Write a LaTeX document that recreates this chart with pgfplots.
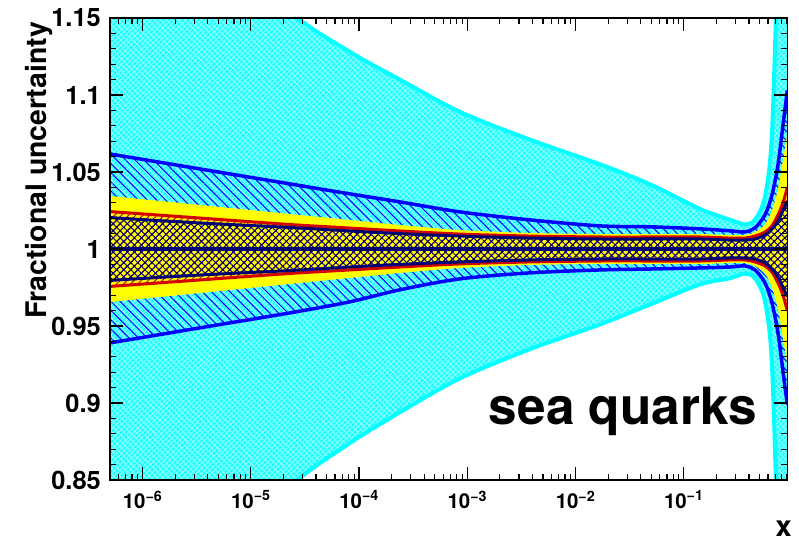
\documentclass[border=0pt]{standalone}
\usepackage{fontspec}
\setmainfont{TeX Gyre Heros}
\usepackage{pgfplots}
\pgfplotsset{compat=1.18}
\usepackage{pgfplotstable}
\usepgfplotslibrary{fillbetween}
\usetikzlibrary{patterns.meta}

\definecolor{rootcyan}{RGB}{0,255,255}
\definecolor{rootblue}{RGB}{0,0,255}
\definecolor{rootnavy}{RGB}{0,0,115}
\definecolor{rootred}{RGB}{210,0,0}
\definecolor{rootyellow}{RGB}{255,255,0}

\pgfplotstableread{
x       cu     cl     bu     bl     yu     yl     ru     rl     nu     nl
5e-7    1.270  0.730  1.0617 0.9390 1.0344 0.9656 1.0243 0.9757 1.0204 0.9796
3.38e-6 1.210  0.790  1.0520 0.9488 1.0286 0.9714 1.0201 0.9799 1.0169 0.9831
2.29e-5 1.154  0.846  1.0423 0.9585 1.0227 0.9773 1.0159 0.9841 1.0140 0.9860
8.22e-5 1.128  0.874  1.0358 0.9657 1.0188 0.9812 1.0136 0.9864 1.0117 0.9883
2.38e-4 1.110  0.894  1.0306 0.9735 1.0156 0.9844 1.0117 0.9883 1.0100 0.9900
8.54e-4 1.089  0.916  1.0241 0.9806 1.0123 0.9877 1.0097 0.9903 1.0084 0.9916
3.79e-3 1.071  0.935  1.0189 0.9845 1.0104 0.9896 1.0084 0.9916 1.0071 0.9929
0.0168  1.055  0.951  1.0150 0.9864 1.0097 0.9903 1.0078 0.9922 1.0065 0.9935
0.0487  1.042  0.964  1.0144 0.9870 1.0097 0.9903 1.0078 0.9922 1.0065 0.9935
0.141   1.026  0.977  1.0131 0.9877 1.0097 0.9903 1.0078 0.9922 1.0065 0.9935
0.267   1.019  0.981  1.0118 0.9883 1.0091 0.9909 1.0071 0.9929 1.0058 0.9942
0.368   1.016  0.984  1.0111 0.9890 1.0091 0.9909 1.0071 0.9929 1.0058 0.9942
0.455   1.019  0.981  1.0137 0.9864 1.0110 0.9890 1.0084 0.9916 1.0065 0.9935
0.563   1.034  0.966  1.0222 0.9780 1.0160 0.9840 1.0110 0.9890 1.0090 0.9910
0.653   1.075  0.925  1.0351 0.9650 1.0250 0.9750 1.0150 0.9850 1.0130 0.9870
0.742   1.200  0.800  1.0546 0.9456 1.0390 0.9610 1.0220 0.9780 1.0180 0.9820
0.826   1.350  0.650  1.0806 0.9203 1.0580 0.9420 1.0300 0.9700 1.0250 0.9750
0.905   1.500  0.500  1.1030 0.8990 1.0750 0.9250 1.0400 0.9600 1.0310 0.9690
}\bands

\begin{document}
\begin{tikzpicture}
\begin{axis}[
  at={(110bp,69bp)}, anchor=south west, scale only axis,
  width=677.3bp, height=462bp,
  xmode=log, xmin=5e-7, xmax=0.905, ymin=0.85, ymax=1.15,
  axis on top, axis line style={line width=1.6bp},
  tick align=inside, major tick length=13bp, minor tick length=6.5bp,
  every tick/.style={black, line width=1.2bp},
  xtick={1e-6,1e-5,1e-4,1e-3,1e-2,1e-1},
  xticklabels={10\textsuperscript{−6},10\textsuperscript{−5},10\textsuperscript{−4},10\textsuperscript{−3},10\textsuperscript{−2},10\textsuperscript{−1}},
  minor xtick={6e-7,7e-7,8e-7,9e-7,2e-6,3e-6,4e-6,5e-6,6e-6,7e-6,8e-6,9e-6,2e-5,3e-5,4e-5,5e-5,6e-5,7e-5,8e-5,9e-5,2e-4,3e-4,4e-4,5e-4,6e-4,7e-4,8e-4,9e-4,2e-3,3e-3,4e-3,5e-3,6e-3,7e-3,8e-3,9e-3,2e-2,3e-2,4e-2,5e-2,6e-2,7e-2,8e-2,9e-2,0.2,0.3,0.4,0.5,0.6,0.7,0.8,0.9},
  ytick={0.85,0.9,0.95,1,1.05,1.1,1.15},
  yticklabels={0.85,0.9,0.95,1,1.05,1.1,1.15},
  minor ytick={0.86,0.87,0.88,0.89,0.91,0.92,0.93,0.94,0.96,0.97,0.98,0.99,1.01,1.02,1.03,1.04,1.06,1.07,1.08,1.09,1.11,1.12,1.13,1.14},
  yticklabel style={font=\fontsize{25.5}{28}\selectfont\bfseries, anchor=east, inner sep=0pt, xshift=-9bp},
  xticklabel style={font=\fontsize{20.5}{24}\selectfont\bfseries, anchor=north, inner sep=0pt, yshift=-10.5bp},
]
% cyan band
\addplot[name path=cu, draw=rootcyan, line width=4bp, smooth] table[x=x,y=cu]{\bands};
\addplot[name path=cl, draw=rootcyan, line width=4bp, smooth] table[x=x,y=cl]{\bands};
\addplot[draw=none, fill=rootcyan!50!white] fill between[of=cu and cl];
\addplot[draw=none, pattern={Hatch[angle=45,distance=3.6bp,line width=1.3bp]}, pattern color=rootcyan] fill between[of=cu and cl];
% blue band
\addplot[name path=bu, draw=rootblue, line width=3.5bp, smooth] table[x=x,y=bu]{\bands};
\addplot[name path=bl, draw=rootblue, line width=3.5bp, smooth] table[x=x,y=bl]{\bands};
\addplot[draw=none, pattern={Lines[angle=-45,distance=6.5bp,line width=1bp]}, pattern color=rootblue] fill between[of=bu and bl];
% yellow band
\addplot[name path=yu, draw=none, smooth] table[x=x,y=yu]{\bands};
\addplot[name path=yl, draw=none, smooth] table[x=x,y=yl]{\bands};
\addplot[draw=none, fill=rootyellow] fill between[of=yu and yl];
% red band
\addplot[name path=ru, draw=rootred, line width=3bp, smooth] table[x=x,y=ru]{\bands};
\addplot[name path=rl, draw=rootred, line width=3bp, smooth] table[x=x,y=rl]{\bands};
\addplot[draw=none, pattern={Lines[angle=45,distance=5bp,line width=1bp]}, pattern color=rootred] fill between[of=ru and rl];
% navy band
\addplot[name path=nu, draw=rootnavy, line width=3bp, smooth] table[x=x,y=nu]{\bands};
\addplot[name path=nl, draw=rootnavy, line width=3bp, smooth] table[x=x,y=nl]{\bands};
\addplot[draw=none, pattern={Hatch[angle=45,distance=5bp,line width=1bp]}, pattern color=rootnavy] fill between[of=nu and nl];
% central line
\addplot[rootnavy, line width=4bp] coordinates {(5e-7,1) (0.905,1)};
\end{axis}
\node[rotate=90, anchor=base east, inner sep=0pt, font=\fontsize{28.5}{32}\selectfont\bfseries] at (46bp,527bp) {Fractional uncertainty};
\node[anchor=base east, inner sep=0pt, font=\fontsize{51.5}{56}\selectfont\bfseries] at (757bp,124bp) {sea quarks};
\node[anchor=base east, inner sep=0pt, font=\fontsize{29}{32}\selectfont\bfseries] at (792bp,13bp) {x};
\path (0,0) rectangle (799bp,549bp);
\end{tikzpicture}
\end{document}
